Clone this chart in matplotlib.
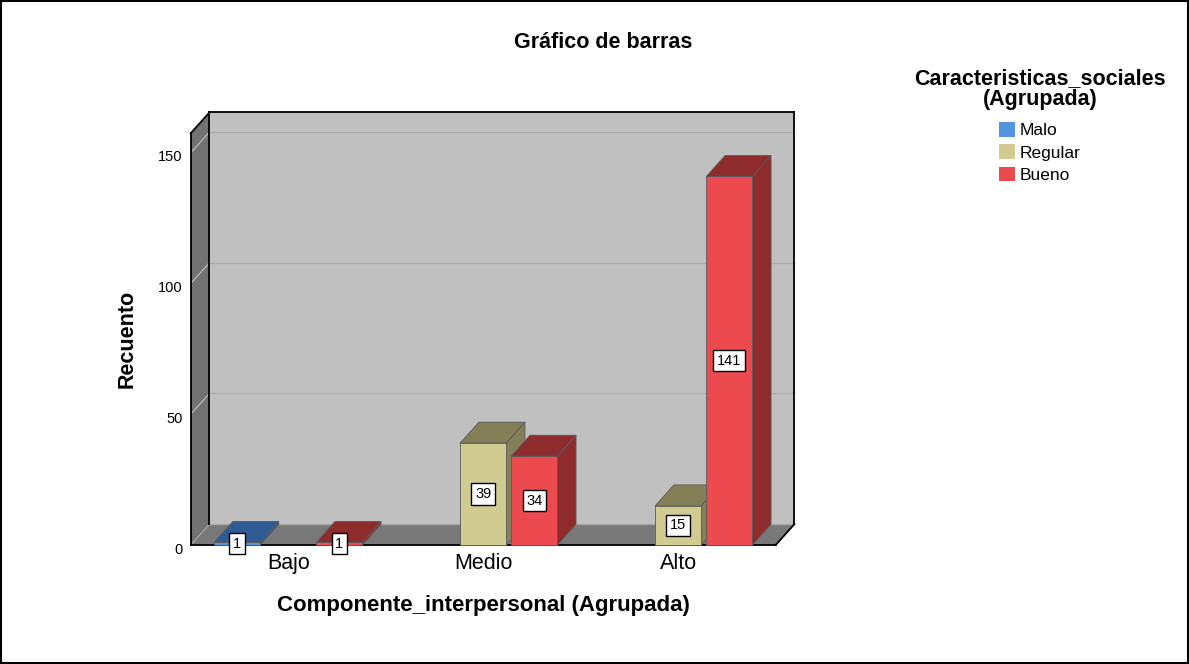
import matplotlib
matplotlib.use('Agg')
import matplotlib.pyplot as plt
from matplotlib.patches import Polygon, Rectangle, Patch
from matplotlib.transforms import ScaledTranslation

plt.rcParams['font.family'] = ['Liberation Sans', 'DejaVu Sans']

# datos
categories = ['Bajo', 'Medio', 'Alto']
groups = ['Malo', 'Regular', 'Bueno']
malo = [1, 0, 0]
regular = [0, 39, 15]
bueno = [1, 34, 141]
yticks = [0, 50, 100, 150]

front_colors = ['#5592e0', '#d1cb91', '#ec4a4e']
dark_colors = ['#2f5b95', '#847f57', '#8e2b2d']

YMAX = 157.5
DX = 0.096   # profundidad 3D en x (unidades de datos)
DY = 8.0     # profundidad 3D en y
BAR_W = 0.236
SLOT = 0.262

fig = plt.figure(figsize=(11.89, 6.64), dpi=100)
ax = fig.add_axes([0.1604, 0.1792, 0.4920, 0.6200])
ax.set_xlim(0, 3)
ax.set_ylim(0, YMAX)
for s in ax.spines.values():
    s.set_visible(False)
ax.patch.set_visible(False)


def poly(pts, fc, ec='none', lw=0.6, z=1):
    p = Polygon(pts, closed=True, facecolor=fc, edgecolor=ec, linewidth=lw,
                zorder=z, clip_on=False)
    ax.add_patch(p)


def line(xs, ys, color='black', lw=1.3, z=2.5):
    ax.plot(xs, ys, color=color, lw=lw, zorder=z, clip_on=False,
            solid_capstyle='projecting')


# paredes
poly([(DX, DY), (3 + DX, DY), (3 + DX, YMAX + DY), (DX, YMAX + DY)], '#c0c0c0')
poly([(0, 0), (DX, DY), (DX, YMAX + DY), (0, YMAX)], '#727272')
poly([(0, 0), (3, 0), (3 + DX, DY), (DX, DY)], '#787878')

# lineas de cuadricula
for v in yticks[1:]:
    line([DX, 3 + DX], [v + DY, v + DY], color='#acacac', lw=1.0, z=1.5)
    line([0, DX], [v, v + DY], color='#b4b4b4', lw=1.0, z=1.5)
line([DX, 3 + DX], [DY, DY], color='#a8a8a8', lw=1.0, z=1.5)
line([0, DX], [0, DY], color='#a0a0a0', lw=1.0, z=1.5)

# bordes
line([0, 0], [0, YMAX])
line([0, DX], [YMAX, YMAX + DY])
line([DX, DX], [DY, YMAX + DY])
line([DX, 3 + DX], [YMAX + DY, YMAX + DY])
line([3 + DX, 3 + DX], [DY, YMAX + DY])
line([0, 3], [0, 0])
line([3, 3 + DX], [0, DY])

# barras
series = [malo, regular, bueno]
for ci in range(len(categories)):
    for gi, vals in enumerate(series):
        v = vals[ci]
        if v == 0:
            continue
        x0 = ci + 0.5 + (gi - 1) * SLOT - BAR_W / 2
        x1 = x0 + BAR_W
        z = 3 + ci * 3 + gi
        poly([(x1, 0), (x1 + DX, DY), (x1 + DX, v + DY), (x1, v)],
             dark_colors[gi], ec='#5a5a5a', z=z)
        poly([(x0, v), (x1, v), (x1 + DX, v + DY), (x0 + DX, v + DY)],
             dark_colors[gi], ec='#5a5a5a', z=z)
        poly([(x0, 0), (x1, 0), (x1, v), (x0, v)],
             front_colors[gi], ec='#5a5a5a', z=z)
        ax.text((x0 + x1) / 2, v / 2, str(v), ha='center', va='center',
                fontsize=10.5, zorder=30,
                bbox=dict(boxstyle='square,pad=0.25', fc='white', ec='black', lw=1))

ax.set_yticks(yticks)
ax.tick_params(axis='y', length=0, pad=6, labelsize=10.5)
shift = ScaledTranslation(0, -0.03, fig.dpi_scale_trans)
for lab in ax.get_yticklabels():
    lab.set_transform(lab.get_transform() + shift)
ax.set_xticks([0.5, 1.5, 2.5], categories)
ax.tick_params(axis='x', length=0, pad=6, labelsize=15.5)

ax.set_xlabel('Componente_interpersonal (Agrupada)', fontsize=16, fontweight='bold')
ax.xaxis.set_label_coords(0.5, -0.148)
ax.xaxis.label.set_va('center')
ax.set_ylabel('Recuento', fontsize=15.5, fontweight='bold')
ax.yaxis.set_label_coords(-0.109, 0.5)
ax.yaxis.label.set_va('center')

fig.text(603 / 1189, 1 - 42 / 664, 'Gráfico de barras', ha='center', va='center',
         fontsize=15.5, fontweight='bold')

# leyenda
fig.text(1040 / 1189, 1 - 89 / 664, 'Caracteristicas_sociales\n(Agrupada)',
         ha='center', va='center', fontsize=15.5, fontweight='bold', linespacing=0.95)
handles = [Patch(facecolor=front_colors[i], edgecolor='none', label=groups[i])
           for i in range(len(groups))]
fig.legend(handles=handles, loc='upper left', bbox_to_anchor=(999 / 1189, 1 - 122 / 664),
           frameon=False, fontsize=12.5, handlelength=0.92, handleheight=0.92,
           handletextpad=0.25, labelspacing=0.35, borderpad=0, borderaxespad=0)

fig.patches.append(Rectangle((0.001, 0.0015), 0.998, 0.997, transform=fig.transFigure,
                             fill=False, edgecolor='black', lw=1.5))

fig.savefig('out.png', dpi=100)
